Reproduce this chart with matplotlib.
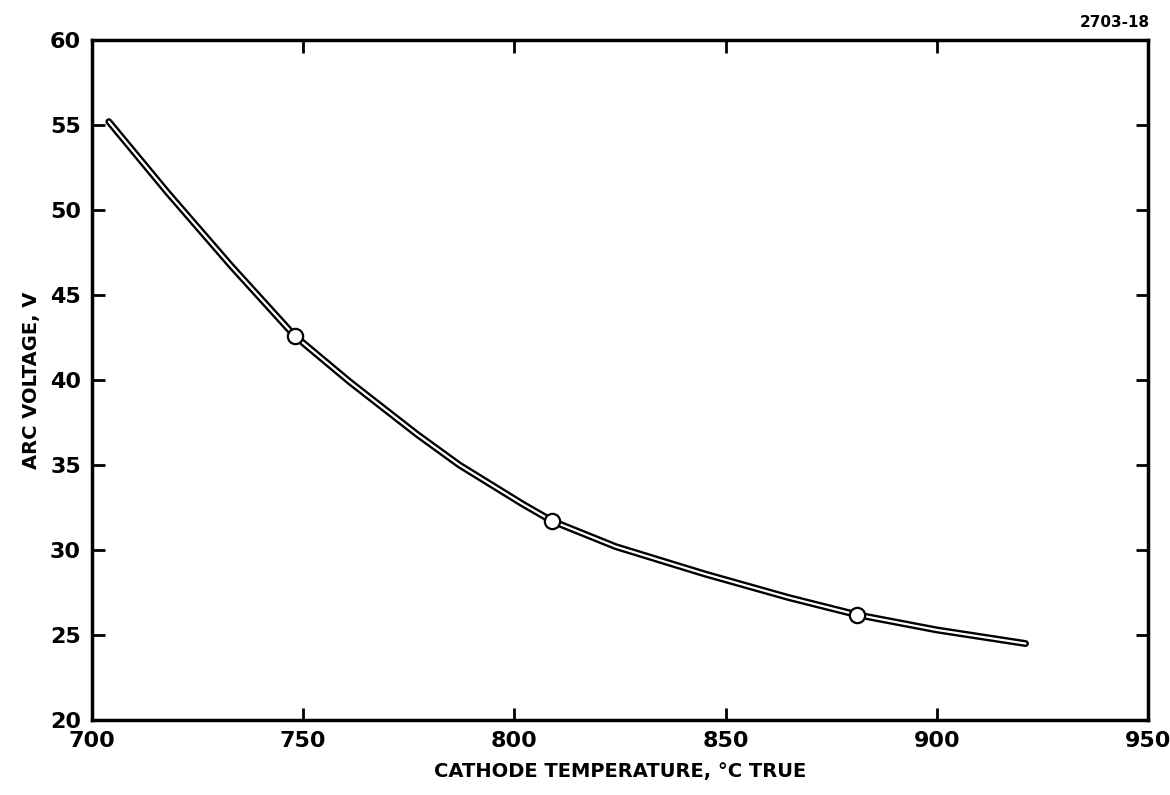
import numpy as np
from matplotlib import pyplot as plt

# cathode temperature (deg C) vs arc voltage (V)
temp = [704, 718, 733, 748, 761, 777, 787, 802, 809, 824, 845, 865, 881, 900, 921]
volts = [55.2, 51.0, 46.7, 42.6, 39.9, 36.8, 35.0, 32.7, 31.7, 30.2, 28.6, 27.2, 26.2, 25.3, 24.5]

# circled points on the curve
pt_temp = [748, 809, 881]
pt_volts = [42.6, 31.7, 26.2]

xticks = [700, 750, 800, 850, 900, 950]
yticks = [20, 25, 30, 35, 40, 45, 50, 55, 60]

fig = plt.figure(figsize=(11.7, 7.95), dpi=100)
ax = fig.add_axes([0.0786, 0.0943, 0.9026, 0.8553])

# drawn as an outlined double line, like the ink original
ax.plot(temp, volts, color='black', lw=5, solid_capstyle='round', zorder=3)
ax.plot(temp, volts, color='white', lw=1.6, solid_capstyle='round', zorder=4)
ax.plot(pt_temp, pt_volts, 'o', ms=11, mfc='white', mec='black', mew=1.6, zorder=5)

ax.set_xlim(700, 950)
ax.set_ylim(20, 60)
ax.set_xticks(xticks)
ax.set_yticks(yticks)
ax.tick_params(direction='in', length=9, width=2, top=True, right=True,
               labelsize=16, pad=8)
for lab in ax.get_xticklabels() + ax.get_yticklabels():
  lab.set_fontweight('bold')
for s in ax.spines.values():
  s.set_linewidth(2.5)

ax.set_xlabel('CATHODE TEMPERATURE, \u00b0C TRUE', fontsize=14, fontweight='bold', labelpad=8)
ax.set_ylabel('ARC VOLTAGE, V', fontsize=14, fontweight='bold', labelpad=6)
fig.text(0.983, 0.972, '2703-18', ha='right', va='center', fontsize=11, fontweight='bold')

plt.savefig('out.png', dpi=100)
